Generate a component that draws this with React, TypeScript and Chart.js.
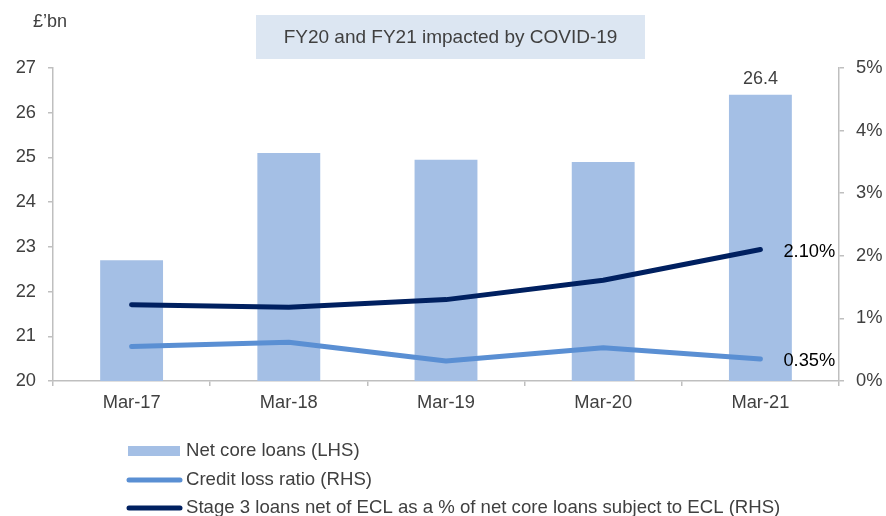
import React, { useEffect, useRef } from "react";
import { Chart, registerables } from "chart.js";

Chart.register(...registerables);

// ---- data ----
const categories = ["Mar-17", "Mar-18", "Mar-19", "Mar-20", "Mar-21"];
const netCoreLoans = [22.7, 25.1, 24.95, 24.9, 26.4]; // £bn (LHS)
const creditLossRatio = [0.55, 0.62, 0.32, 0.53, 0.35]; // % (RHS)
const stage3Ratio = [1.22, 1.18, 1.3, 1.61, 2.1]; // % (RHS)
const leftAxisRange = [20, 27];
const rightAxisRange = [0, 5];
const seriesLabels = [
  "Net core loans (LHS)",
  "Credit loss ratio (RHS)",
  "Stage 3 loans net of ECL as a % of net core loans subject to ECL (RHS)",
];
const titleText = "FY20 and FY21 impacted by COVID-19";
const unitText = "£’bn";

// ---- styles ----
const FONT = "'Liberation Sans', Arial, Helvetica, sans-serif";
const BAR_COLOR = "#A4BFE5";
const CREDIT_COLOR = "#5A8FD3";
const STAGE3_COLOR = "#002060";
const AXIS_COLOR = "#BFBFBF";
const TEXT_COLOR = "#404040";

const overlayPlugin = {
  id: "overlay",
  afterDraw(chart: any) {
    const ctx = chart.ctx as CanvasRenderingContext2D;
    ctx.save();

    // title box
    ctx.fillStyle = "#DCE6F2";
    ctx.fillRect(256, 15, 389, 44);
    ctx.fillStyle = TEXT_COLOR;
    ctx.font = `19px ${FONT}`;
    ctx.textAlign = "center";
    ctx.textBaseline = "middle";
    ctx.fillText(titleText, 450.5, 38);

    // unit label
    ctx.font = `18px ${FONT}`;
    ctx.textAlign = "left";
    ctx.textBaseline = "alphabetic";
    ctx.fillText(unitText, 33, 27);

    // data label on last bar
    const n = categories.length;
    const barMeta = chart.getDatasetMeta(0);
    const lastBar = barMeta.data[n - 1];
    ctx.textAlign = "center";
    ctx.fillStyle = TEXT_COLOR;
    ctx.fillText(netCoreLoans[n - 1].toFixed(1), lastBar.x, lastBar.y - 11);

    // end labels for lines
    ctx.font = `18.3px ${FONT}`;
    ctx.fillStyle = "#000000";
    ctx.textAlign = "left";
    ctx.textBaseline = "middle";
    const lineSets = [
      { idx: 1, vals: creditLossRatio },
      { idx: 2, vals: stage3Ratio },
    ];
    lineSets.forEach(({ idx, vals }) => {
      const p = chart.getDatasetMeta(idx).data[n - 1];
      ctx.fillText(vals[n - 1].toFixed(2) + "%", p.x + 23, p.y + 2);
    });

    // legend
    ctx.font = `18.6px ${FONT}`;
    const rows = [451, 480, 508];
    const swX0 = 128;
    const swX1 = 180;
    ctx.textBaseline = "middle";
    rows.forEach((y, i) => {
      const ds = chart.data.datasets[i];
      if (i === 0) {
        ctx.fillStyle = ds.backgroundColor;
        ctx.fillRect(swX0, y - 5, swX1 - swX0, 10);
      } else {
        ctx.strokeStyle = ds.borderColor;
        ctx.lineWidth = 5;
        ctx.lineCap = "round";
        ctx.beginPath();
        ctx.moveTo(swX0 + 1, y);
        ctx.lineTo(swX1, y);
        ctx.stroke();
      }
      ctx.fillStyle = TEXT_COLOR;
      ctx.fillText(seriesLabels[i], 186, y);
    });

    ctx.restore();
  },
};

export default function App() {
  const canvasRef = useRef<HTMLCanvasElement | null>(null);

  useEffect(() => {
    if (!canvasRef.current) return;
    const tickFont = { size: 18.3, family: FONT };
    const chart = new Chart(canvasRef.current, {
      type: "bar",
      data: {
        labels: categories,
        datasets: [
          {
            type: "bar",
            label: seriesLabels[0],
            data: netCoreLoans,
            backgroundColor: BAR_COLOR,
            yAxisID: "y",
            barPercentage: 0.4,
            categoryPercentage: 1,
            order: 3,
          },
          {
            type: "line",
            label: seriesLabels[1],
            data: creditLossRatio,
            borderColor: CREDIT_COLOR,
            backgroundColor: CREDIT_COLOR,
            borderWidth: 5,
            borderCapStyle: "round",
            borderJoinStyle: "round",
            pointRadius: 0,
            tension: 0,
            yAxisID: "y1",
            order: 2,
          },
          {
            type: "line",
            label: seriesLabels[2],
            data: stage3Ratio,
            borderColor: STAGE3_COLOR,
            backgroundColor: STAGE3_COLOR,
            borderWidth: 5,
            borderCapStyle: "round",
            borderJoinStyle: "round",
            pointRadius: 0,
            tension: 0,
            yAxisID: "y1",
            order: 1,
          },
        ] as any,
      },
      options: {
        responsive: false,
        animation: false,
        devicePixelRatio: 1,
        layout: { padding: { top: 68, bottom: 105, left: 0, right: 0 } },
        plugins: {
          legend: { display: false },
          tooltip: { enabled: false },
          title: { display: false },
        },
        scales: {
          x: {
            grid: {
              display: true,
              drawOnChartArea: false,
              drawTicks: true,
              tickLength: 5,
              color: AXIS_COLOR,
              lineWidth: 1.5,
              offset: true,
            },
            border: { display: true, color: AXIS_COLOR, width: 1.5 },
            ticks: { color: TEXT_COLOR, font: tickFont, padding: 6, maxRotation: 0 },
            afterFit: (s: any) => {
              s.height = 30;
            },
          },
          y: {
            position: "left",
            min: leftAxisRange[0],
            max: leftAxisRange[1],
            ticks: { stepSize: 1, color: TEXT_COLOR, font: tickFont, padding: 12 },
            grid: {
              display: true,
              drawOnChartArea: false,
              tickLength: 5,
              color: AXIS_COLOR,
              lineWidth: 1.5,
            },
            border: { display: true, color: AXIS_COLOR, width: 1.5 },
            afterFit: (s: any) => {
              s.width = 53;
            },
          },
          y1: {
            position: "right",
            min: rightAxisRange[0],
            max: rightAxisRange[1],
            ticks: {
              stepSize: 1,
              color: TEXT_COLOR,
              font: tickFont,
              padding: 12,
              callback: (v: any) => v + "%",
            },
            grid: {
              display: true,
              drawOnChartArea: false,
              tickLength: 5,
              color: AXIS_COLOR,
              lineWidth: 1.5,
            },
            border: { display: true, color: AXIS_COLOR, width: 1.5 },
            afterFit: (s: any) => {
              s.width = 47;
            },
          },
        },
      } as any,
      plugins: [overlayPlugin],
    });
    return () => chart.destroy();
  }, []);

  return (
    <div
      style={{
        position: "absolute",
        left: 0,
        top: 0,
        width: 886,
        height: 516,
        background: "#ffffff",
      }}
    >
      <canvas
        ref={canvasRef}
        width={886}
        height={516}
        style={{ width: 886, height: 516, display: "block" }}
      />
    </div>
  );
}
